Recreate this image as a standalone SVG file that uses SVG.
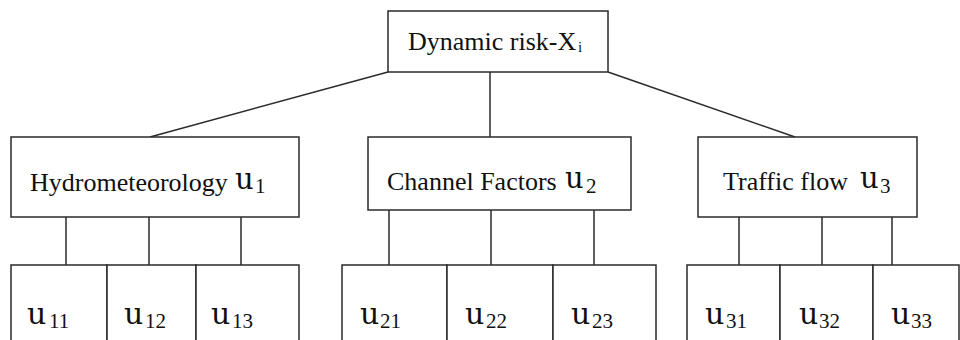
<svg xmlns="http://www.w3.org/2000/svg" width="960" height="340" viewBox="0 0 960 340">
<style>
  .box { fill: #ffffff; stroke: #2a2a2a; stroke-width: 1.5; }
  .conn line { stroke: #2a2a2a; stroke-width: 1.5; }
  .t { font-family: "Liberation Serif", "Times New Roman", serif; font-size: 26px; fill: #111; }
  .u { font-family: "DejaVu Serif", "Liberation Serif", serif; font-size: 30px; fill: #111; }
  .uh { font-family: "DejaVu Serif", "Liberation Serif", serif; font-size: 29px; fill: #111; }
  .sub { font-family: "Liberation Serif", "Times New Roman", serif; font-size: 21px; fill: #111; }
  .si { font-family: "Liberation Serif", "Times New Roman", serif; font-size: 15px; fill: #111; }
</style>
<rect width="960" height="340" fill="#ffffff"/>
<g id="connectors" class="conn">
  <line x1="388" y1="72" x2="150" y2="137"/>
  <line x1="490" y1="72" x2="490" y2="137"/>
  <line x1="608" y1="72" x2="795" y2="137"/>
  <line x1="66" y1="217" x2="66" y2="265"/>
  <line x1="149" y1="217" x2="149" y2="265"/>
  <line x1="241" y1="217" x2="241" y2="265"/>
  <line x1="389" y1="210" x2="389" y2="265"/>
  <line x1="491" y1="210" x2="491" y2="265"/>
  <line x1="594" y1="210" x2="594" y2="265"/>
  <line x1="739" y1="217" x2="739" y2="265"/>
  <line x1="822" y1="217" x2="822" y2="265"/>
  <line x1="892" y1="217" x2="892" y2="265"/>
</g>
<g id="root">
  <rect class="box" x="388" y="11" width="220" height="61"/>
  <text class="t" x="408" y="50">Dynamic risk-X<tspan class="si" x="578" y="52">i</tspan></text>
</g>
<g id="u1">
  <rect class="box" x="11" y="137" width="288" height="80"/>
  <text class="t" x="30" y="191">Hydrometeorology</text>
  <text class="uh" x="235" y="189">u<tspan class="sub" x="255" y="193">1</tspan></text>
</g>
<g id="u2">
  <rect class="box" x="368" y="137" width="263" height="73"/>
  <text class="t" x="387" y="190">Channel Factors</text>
  <text class="uh" x="565" y="188">u<tspan class="sub" x="586" y="193">2</tspan></text>
</g>
<g id="u3">
  <rect class="box" x="698" y="137" width="219" height="80"/>
  <text class="t" x="723" y="190">Traffic flow</text>
  <text class="uh" x="860" y="188">u<tspan class="sub" x="880" y="193">3</tspan></text>
</g>
<g id="u11">
  <rect class="box" x="11" y="265" width="96" height="90"/>
  <text class="u" x="27" y="324">u<tspan class="sub" x="49" y="328">11</tspan></text>
</g>
<g id="u12">
  <rect class="box" x="107" y="265" width="89" height="90"/>
  <text class="u" x="124" y="324">u<tspan class="sub" x="145" y="328">12</tspan></text>
</g>
<g id="u13">
  <rect class="box" x="196" y="265" width="103" height="90"/>
  <text class="u" x="211" y="324">u<tspan class="sub" x="232" y="328">13</tspan></text>
</g>
<g id="u21">
  <rect class="box" x="342" y="265" width="105" height="90"/>
  <text class="u" x="360" y="324">u<tspan class="sub" x="380" y="328">21</tspan></text>
</g>
<g id="u22">
  <rect class="box" x="447" y="265" width="106" height="90"/>
  <text class="u" x="465" y="324">u<tspan class="sub" x="486" y="328">22</tspan></text>
</g>
<g id="u23">
  <rect class="box" x="553" y="265" width="103" height="90"/>
  <text class="u" x="571" y="324">u<tspan class="sub" x="592" y="328">23</tspan></text>
</g>
<g id="u31">
  <rect class="box" x="687" y="265" width="93" height="90"/>
  <text class="u" x="705" y="324">u<tspan class="sub" x="726" y="328">31</tspan></text>
</g>
<g id="u32">
  <rect class="box" x="780" y="265" width="93" height="90"/>
  <text class="u" x="799" y="324">u<tspan class="sub" x="819" y="328">32</tspan></text>
</g>
<g id="u33">
  <rect class="box" x="873" y="265" width="86" height="90"/>
  <text class="u" x="891" y="324">u<tspan class="sub" x="911" y="328">33</tspan></text>
</g>
</svg>
